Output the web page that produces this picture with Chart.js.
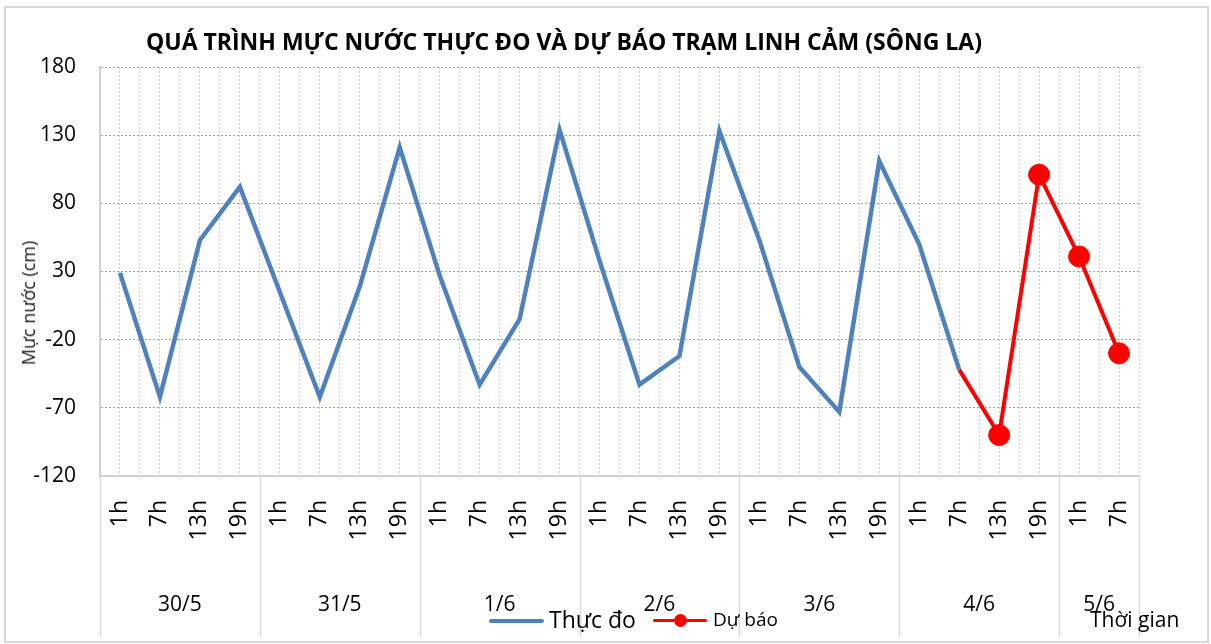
<!DOCTYPE html>
<html>
<head>
<meta charset="utf-8">
<script src="https://cdn.jsdelivr.net/npm/chart.js@4.4.1/dist/chart.umd.min.js"></script>
<style>
  html, body { margin: 0; padding: 0; background: #fff; }
  #wrap { position: relative; width: 1211px; height: 644px; font-family: "Open Sans", sans-serif; color: #000; }
  #frame { position: absolute; left: 4px; top: 6px; width: 1205px; height: 637px; border: 2px solid #d9d9d9; box-sizing: border-box; }
  canvas { position: absolute; left: 0; top: 0; }
  #title { position: absolute; left: 0; top: 26px; width: 1128px; text-align: center; font-weight: bold; font-size: 23px; line-height: 30px; white-space: nowrap; }
  #ytitle { position: absolute; left: 28px; top: 303px; transform: translate(-50%, -50%) rotate(-90deg); font-size: 18px; white-space: nowrap; color: #202020; }
  #xtitle { position: absolute; left: 1090px; top: 605px; font-size: 21px; white-space: nowrap; }
  .lg-line { position: absolute; height: 4px; border-radius: 2px; }
  .lg-dot { position: absolute; width: 13px; height: 13px; border-radius: 50%; background: #ff0000; }
  .lg-text { position: absolute; white-space: nowrap; }
</style>
</head>
<body>
<div id="wrap">
  <div id="frame"></div>
  <canvas id="chart" width="1211" height="644"></canvas>
  <div id="title">QUÁ TRÌNH MỰC NƯỚC THỰC ĐO VÀ DỰ BÁO TRẠM LINH CẢM (SÔNG LA)</div>
  <div id="ytitle">Mực nước (cm)</div>
  <div id="xtitle">Thời gian</div>
  <div class="lg-line" style="left:489px; top:619px; width:55px; background:#4f81bd;"></div>
  <div class="lg-text" style="left:549px; top:603px; font-size:23px;">Thực đo</div>
  <div class="lg-line" style="left:653px; top:619px; width:54px; height:3px; background:#ff0000;"></div>
  <div class="lg-dot" style="left:674px; top:614px;"></div>
  <div class="lg-text" style="left:713px; top:606px; font-size:19px;">Dự báo</div>
</div>
<script>
// ── Data ──────────────────────────────────────────────────────
const days = ['30/5', '31/5', '1/6', '2/6', '3/6', '4/6', '5/6'];
const dayHours = [4, 4, 4, 4, 4, 4, 2];
const hourNames = ['1h', '7h', '13h', '19h'];
const hours = days.flatMap((d, i) => hourNames.slice(0, dayHours[i]));

const thucDo = [29, -62, 53, 92,
                15, -62, 19, 121,
                27, -53, -5, 134,
                38, -53, -32, 133,
                53, -40, -73, 111,
                50, -42];
const duBao = [null, null, null, null,
               null, null, null, null,
               null, null, null, null,
               null, null, null, null,
               null, null, null, null,
               null, -42, -90, 101,
               41, -30];

const yTicks = { min: -120, max: 180, step: 50 };

// group centres and borders on the half-category grid
const groupBounds = [-0.5];
dayHours.forEach(n => groupBounds.push(groupBounds[groupBounds.length - 1] + n));
const groupCenters = days.map((d, i) => (groupBounds[i] + groupBounds[i + 1]) / 2);

const FONT = '"Open Sans", sans-serif';

// ── Group separator lines under the axis ──────────────────────
const separators = {
  id: 'separators',
  afterDraw(chart) {
    const xd = chart.scales.xd;
    const ctx = chart.ctx;
    ctx.save();
    ctx.strokeStyle = '#d9d9d9';
    ctx.lineWidth = 1.5;
    groupBounds.forEach(b => {
      const px = Math.round(xd.getPixelForValue(b)) + 0.5;
      ctx.beginPath();
      ctx.moveTo(px, chart.chartArea.bottom);
      ctx.lineTo(px, xd.bottom);
      ctx.stroke();
    });
    ctx.restore();
  }
};

new Chart(document.getElementById('chart'), {
  type: 'line',
  data: {
    labels: hours,
    datasets: [
      {
        label: 'Thực đo',
        data: thucDo,
        borderColor: '#4f81bd',
        backgroundColor: '#4f81bd',
        borderWidth: 4.5,
        pointRadius: 0,
        tension: 0,
        xAxisID: 'x'
      },
      {
        label: 'Dự báo',
        data: duBao,
        borderColor: '#ff0000',
        backgroundColor: '#ff0000',
        borderWidth: 4,
        pointRadius: ctx => (ctx.dataIndex === 21 ? 0 : 10.5),
        pointBorderWidth: 1,
        pointBorderColor: '#ff0000',
        tension: 0,
        xAxisID: 'x'
      }
    ]
  },
  options: {
    responsive: false,
    animation: false,
    layout: { padding: { left: 0, right: 72, top: 67, bottom: 7 } },
    plugins: {
      legend: { display: false },
      tooltip: { enabled: false },
      title: { display: false }
    },
    scales: {
      xg: {
        type: 'linear',
        position: 'bottom',
        weight: 0,
        min: -0.5,
        max: hours.length - 0.5,
        afterBuildTicks: s => {
          const t = [];
          for (let v = -0.5; v <= hours.length - 0.5; v += 0.5) t.push({ value: v });
          s.ticks = t;
        },
        ticks: { display: false },
        grid: { color: '#c8c8c8', lineWidth: 1, drawTicks: false },
        border: { display: false, dash: [2, 2] },
        afterFit: s => { s.height = 0; }
      },
      x: {
        type: 'category',
        position: 'bottom',
        weight: 1,
        offset: true,
        grid: { display: false, drawTicks: false },
        border: { display: true, color: '#d0d0d0', width: 2 },
        ticks: {
          autoSkip: false,
          minRotation: 90,
          maxRotation: 90,
          padding: 24,
          color: '#000',
          font: { family: FONT, size: 23 }
        },
        afterFit: s => { s.height = 95; }
      },
      xd: {
        type: 'linear',
        position: 'bottom',
        weight: 2,
        min: -0.5,
        max: hours.length - 0.5,
        afterBuildTicks: s => { s.ticks = groupCenters.map(v => ({ value: v })); },
        grid: { display: false, drawTicks: false },
        border: { display: false },
        ticks: {
          padding: 21,
          color: '#000',
          font: { family: FONT, size: 21 },
          callback: v => days[groupCenters.indexOf(v)] ?? ''
        },
        afterFit: s => { s.height = 66; }
      },
      y: {
        min: yTicks.min,
        max: yTicks.max,
        ticks: {
          stepSize: yTicks.step,
          padding: 24,
          color: '#000',
          font: { family: FONT, size: 21 }
        },
        grid: { color: '#a0a0a0', lineWidth: 1, drawTicks: false },
        border: { display: true, color: '#d0d0d0', width: 2, dash: [2, 2] },
        afterFit: s => { s.width = 100; }
      }
    }
  },
  plugins: [separators]
});
</script>
</body>
</html>
